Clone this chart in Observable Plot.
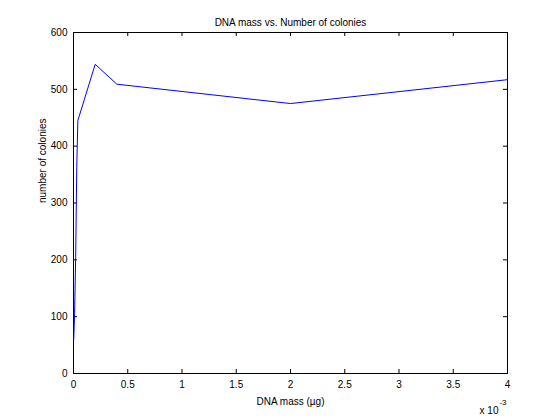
<!DOCTYPE html>
<html>
<head>
<meta charset="utf-8">
<script src="https://cdn.jsdelivr.net/npm/d3@7"></script>
<script src="https://cdn.jsdelivr.net/npm/@observablehq/plot@0.6"></script>
<style>
  html, body { margin: 0; padding: 0; background: #fff; }
  svg { display: block; }
</style>
</head>
<body>
<div id="chart"></div>
<script>
// Data (DNA mass in µg, number of colonies)
const mass = [0.000002, 0.00001, 0.00002, 0.00003, 0.00004, 0.0002, 0.0004, 0.002, 0.004];
const colonies = [60, 105, 204, 363, 445, 544, 509, 475, 517];
const xTicks = [0, 0.0005, 0.001, 0.0015, 0.002, 0.0025, 0.003, 0.0035, 0.004];
const yTicks = [0, 100, 200, 300, 400, 500, 600];
const title = "DNA mass vs. Number of colonies";
const xLabel = "DNA mass (µg)";
const yLabel = "number of colonies";

const data = mass.map((m, i) => ({mass: m, colonies: colonies[i]}));

const W = 560, H = 420;
const mL = 73, mR = 53, mT = 32, mB = 47;
const innerW = W - mL - mR, innerH = H - mT - mB;
const tick = 4;

const chart = Plot.plot({
  width: W,
  height: H,
  marginLeft: mL,
  marginRight: mR,
  marginTop: mT,
  marginBottom: mB,
  style: {fontFamily: "'Liberation Sans', Arial, Helvetica, sans-serif", fontSize: "10px", background: "#fff", color: "#000"},
  x: {domain: [0, 0.004], label: null},
  y: {domain: [0, 600], label: null},
  marks: [
    Plot.frame({stroke: "#000", strokeWidth: 1}),
    Plot.tickX(xTicks, {x: d => d, insetTop: innerH - tick, stroke: "#000"}),
    Plot.tickX(xTicks, {x: d => d, insetBottom: innerH - tick, stroke: "#000"}),
    Plot.tickY(yTicks, {y: d => d, insetRight: innerW - tick, stroke: "#000"}),
    Plot.tickY(yTicks, {y: d => d, insetLeft: innerW - tick, stroke: "#000"}),
    Plot.axisX(xTicks, {tickSize: 0, tickPadding: 7, tickFormat: d => d3.format("~g")(+(d * 1000).toFixed(4)), fill: "#000", label: null, fontSize: 10}),
    Plot.axisY(yTicks, {tickSize: 0, tickPadding: 6, tickFormat: d => String(d), fill: "#000", label: null, fontSize: 10}),
    Plot.line(data, {x: "mass", y: "colonies", stroke: "#0000ff", strokeWidth: 1}),
    Plot.text([title], {frameAnchor: "top", dy: -14, text: d => d, fill: "#000", fontSize: 10}),
    Plot.text([xLabel], {frameAnchor: "bottom", dy: 31, text: d => d, fill: "#000", fontSize: 10}),
    Plot.text([yLabel], {frameAnchor: "left", dx: -31, rotate: -90, text: d => d, fill: "#000", fontSize: 10}),
    Plot.text(["x 10"], {frameAnchor: "bottom-right", dx: -9, dy: 40, textAnchor: "end", text: d => d, fill: "#000", fontSize: 10}),
    Plot.text(["-3"], {frameAnchor: "bottom-right", dx: -1, dy: 31, textAnchor: "end", text: d => d, fill: "#000", fontSize: 8})
  ]
});
document.getElementById("chart").appendChild(chart);
</script>
</body>
</html>
